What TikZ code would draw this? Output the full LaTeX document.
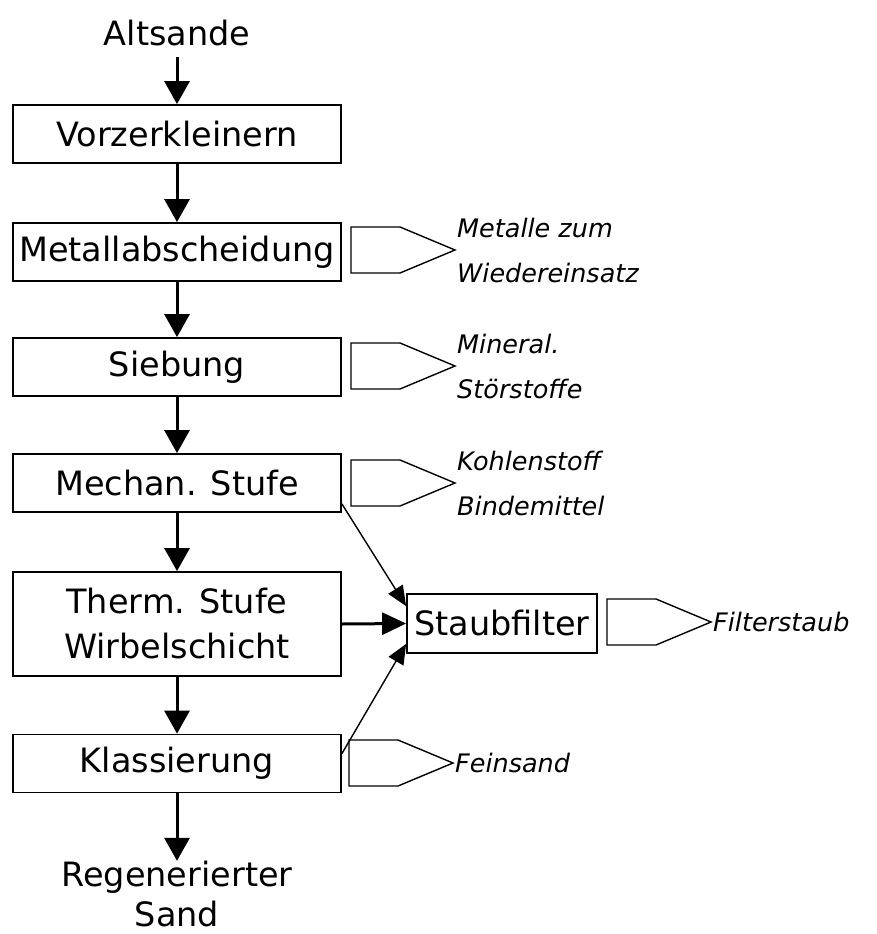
\documentclass[tikz,border=0pt]{standalone}
\usepackage{fontspec}
\setmainfont{DejaVu Sans}
\usetikzlibrary{arrows.meta}
\begin{document}
\begin{tikzpicture}[x=1pt,y=-1pt,
  stage/.style={draw, line width=1.8pt, minimum width=328pt, minimum height=58pt,
    inner sep=0pt, align=center, font=\fontsize{33.5}{45}\selectfont},
  term/.style={inner sep=0pt, align=center, font=\fontsize{33.5}{40}\selectfont},
  outtext/.style={anchor=west, inner sep=0pt, align=left,
    font=\fontsize{25.5}{45}\selectfont\itshape},
  flow/.style={line width=3pt, -{Triangle[length=23pt,width=25pt]}},
  feed/.style={line width=1.4pt, -{Triangle[length=20pt,width=17pt]}},
  mainfeed/.style={line width=3pt, -{Triangle[length=24pt,width=22pt]}},
  outlet/.pic={
    \draw[line width=1.4pt] (0,-23) -- (49,-23) -- (104,0) -- (49,23) -- (0,23) -- cycle;
    \coordinate (-tip) at (106,0);
  }
]
\useasboundingbox (0,0) rectangle (876,934);

% main process chain
\node[term] (alt) at (177,33) {Altsande};
\coordinate (altfoot) at (177,57);
\node[stage] (vorz) at (177,134) {Vorzerkleinern};
\node[stage] (metall) at (177,252) {Metallabscheidung};
\node[stage] (sieb) at (177,367) {Siebung};
\node[stage] (mech) at (177,483) {Mechan. Stufe};
\node[stage, minimum height=104pt] (therm) at (177,624) {Therm. Stufe\\Wirbelschicht};
\node[stage] (klass) at (177,763.5) {Klassierung};
\node[term] (sand) at (177,894) {Regenerierter\\Sand};

\draw[flow] (altfoot) -- (vorz.north);
\draw[flow] (vorz) -- (metall);
\draw[flow] (metall) -- (sieb);
\draw[flow] (sieb) -- (mech);
\draw[flow] (mech) -- (therm);
\draw[flow] (therm) -- (klass);
\draw[flow] (klass.south) -- (sand.north);

% dust filter branch
\node[stage, minimum width=190pt, minimum height=59pt] (staub) at (502,623.5) {Staubfilter};
\draw[feed] ([yshift=9pt]mech.south east) -- ([yshift=-13pt]staub.north west);
\draw[mainfeed] (therm.east) -- (staub.west);
\draw[feed] ([yshift=-20pt]klass.north east) -- ([yshift=10pt]staub.south west);

% discharged fractions
\pic (o1) at (351,250) {outlet};
\node[outtext] (t1) at (o1-tip) {Metalle zum\\Wiedereinsatz};
\pic (o2) at (351,366) {outlet};
\node[outtext] (t2) at (o2-tip) {Mineral.\\Störstoffe};
\pic (o3) at (351,483) {outlet};
\node[outtext] (t3) at (o3-tip) {Kohlenstoff\\Bindemittel};
\pic (o4) at (607,622) {outlet};
\node[outtext] (t4) at (o4-tip) {Filterstaub};
\pic (o5) at (349,763) {outlet};
\node[outtext] (t5) at (o5-tip) {Feinsand};
\end{tikzpicture}
\end{document}
